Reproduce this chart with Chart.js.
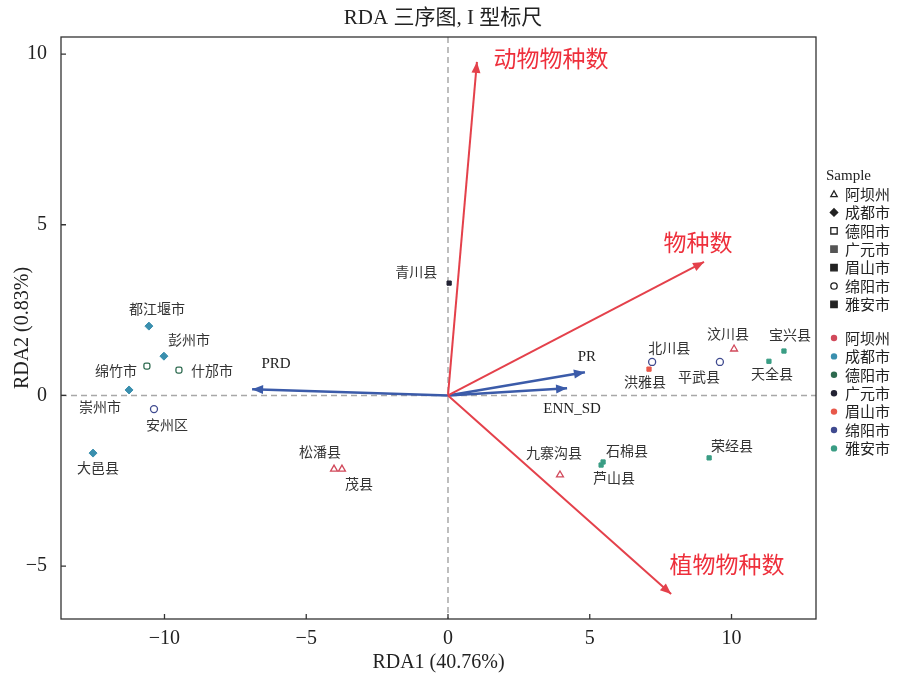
<!DOCTYPE html>
<html>
<head>
<meta charset="utf-8">
<script src="https://cdn.jsdelivr.net/npm/chart.js@4/dist/chart.umd.min.js"></script>
<style>
  html, body { margin: 0; padding: 0; background: #fff; }
  #wrap { width: 897px; height: 675px; }
</style>
</head>
<body>
<div id="wrap"><canvas id="rda"></canvas></div>
<script>
// sample scores
const sampleNames = ['青川县', '都江堰市', '彭州市', '绵竹市', '什邡市', '崇州市', '安州区', '大邑县',
  '松潘县', '茂县', '九寨沟县', '石棉县', '芦山县', '荣经县', '北川县', '洪雅县', '平武县', '汶川县', '天全县', '宝兴县'];
const sampleRegions = ['广元市', '成都市', '成都市', '德阳市', '德阳市', '成都市', '绵阳市', '成都市',
  '阿坝州', '阿坝州', '阿坝州', '雅安市', '雅安市', '雅安市', '绵阳市', '眉山市', '绵阳市', '阿坝州', '雅安市', '雅安市'];
const rda1 = [0.04, -10.55, -10.02, -10.62, -9.49, -11.25, -10.37, -12.52,
  -4.02, -3.74, 3.95, 5.47, 5.40, 9.21, 7.20, 7.09, 9.59, 10.09, 11.32, 11.85];
const rda2 = [3.29, 2.03, 1.15, 0.86, 0.74, 0.16, -0.40, -1.69,
  -2.16, -2.16, -2.33, -1.95, -2.04, -1.83, 0.98, 0.77, 0.98, 1.36, 1.00, 1.30];

const regions = ['阿坝州', '成都市', '德阳市', '广元市', '眉山市', '绵阳市', '雅安市'];

// environment arrows
const envNames = ['动物物种数', '物种数', '植物物种数', 'PRD', 'PR', 'ENN_SD'];
const envRda1 = [1.02, 9.03, 7.87, -6.91, 4.83, 4.20];
const envRda2 = [9.77, 3.91, -5.82, 0.18, 0.68, 0.21];

const xTicks = [-10, -5, 0, 5, 10];
const yTicks = [-5, 0, 5, 10];

// styling
const regionColors = ['#d1495b', '#3a8fae', '#2d6a4f', '#222233', '#e8584a', '#3f4a8f', '#3a9d84'];
const regionShapes = ['triangle', 'rectRot', 'rectRounded', 'rect', 'rect', 'circle', 'rect'];
const regionFilled = [false, true, false, true, true, false, true];
const regionSizes = [4, 4, 3.5, 3, 3, 3.5, 3];
const envColors = ['#e4414b', '#e4414b', '#e4414b', '#3b5ba9', '#3b5ba9', '#3b5ba9'];
const envWidths = [2, 2, 2, 2.5, 2.5, 2.5];

// label offsets (text centre relative to point / arrow tip)
const labelDx = [-33, 8, 25, -31, 33, -29, 13, 5, -14, 17, -6, 24, 13, 23, 17, -4, -21, -6, 3, 6];
const labelDy = [-11, -17, -16, 5, 1, 17, 16, 15, -17, 15, -22, -11, 13, -12, -14, 13, 15, -15, 12, -16];
const envDx = [74, -6, 56, 24, 2, 5];
const envDy = [-4, -20, -30, -25, -15, 21];

const SERIF = "'Liberation Serif', 'Noto Sans CJK SC', serif";
const CJK = "'Liberation Serif', 'Noto Sans CJK SC', sans-serif";

const datasets = regions.map((r, k) => {
  const idx = sampleNames.map((_, i) => i).filter(i => sampleRegions[i] === r);
  return {
    label: r,
    type: 'scatter',
    data: idx.map(i => ({ x: rda1[i], y: rda2[i], name: sampleNames[i], i: i })),
    pointStyle: regionShapes[k],
    pointRadius: regionSizes[k],
    backgroundColor: regionFilled[k] ? regionColors[k] : '#ffffff',
    borderColor: regionColors[k],
    borderWidth: regionFilled[k] ? 1 : 1.3,
    order: 1
  };
});

envNames.forEach((n, k) => {
  datasets.push({
    label: n,
    type: 'line',
    data: [{ x: 0, y: 0 }, { x: envRda1[k], y: envRda2[k] }],
    borderColor: envColors[k],
    borderWidth: envWidths[k],
    pointRadius: 0,
    fill: false,
    isArrow: true,
    envIndex: k,
    order: 2
  });
});

const decor = {
  id: 'decor',
  beforeDatasetsDraw(chart) {
    const { ctx, chartArea: a, scales: { x, y } } = chart;
    ctx.save();
    ctx.strokeStyle = '#a8a8a8';
    ctx.lineWidth = 1.5;
    ctx.setLineDash([6, 4]);
    const x0 = x.getPixelForValue(0), y0 = y.getPixelForValue(0);
    ctx.beginPath();
    ctx.moveTo(x0, a.top); ctx.lineTo(x0, a.bottom);
    ctx.moveTo(a.left, y0); ctx.lineTo(a.right, y0);
    ctx.stroke();
    ctx.restore();
  },
  afterDatasetsDraw(chart) {
    const ctx = chart.ctx;
    ctx.save();
    chart.data.datasets.forEach((ds, di) => {
      const meta = chart.getDatasetMeta(di);
      if (ds.isArrow) {
        const p0 = meta.data[0], p1 = meta.data[1];
        const ang = Math.atan2(p1.y - p0.y, p1.x - p0.x);
        const len = 11, half = 4.5;
        ctx.fillStyle = ds.borderColor;
        ctx.beginPath();
        ctx.moveTo(p1.x, p1.y);
        ctx.lineTo(p1.x - len * Math.cos(ang) + half * Math.sin(ang), p1.y - len * Math.sin(ang) - half * Math.cos(ang));
        ctx.lineTo(p1.x - len * Math.cos(ang) - half * Math.sin(ang), p1.y - len * Math.sin(ang) + half * Math.cos(ang));
        ctx.closePath();
        ctx.fill();
        const k = ds.envIndex;
        const red = k < 3;
        ctx.fillStyle = red ? '#ee2f3b' : '#222';
        ctx.font = red ? "23px 'Noto Sans CJK SC', sans-serif" : '15px ' + SERIF;
        ctx.textAlign = 'center';
        ctx.textBaseline = 'middle';
        ctx.fillText(ds.label, p1.x + envDx[k], p1.y + envDy[k]);
      } else {
        ctx.fillStyle = '#333';
        ctx.font = "14px 'Noto Sans CJK SC', sans-serif";
        ctx.textAlign = 'center';
        ctx.textBaseline = 'middle';
        meta.data.forEach((pt, j) => {
          const i = ds.data[j].i;
          ctx.fillText(ds.data[j].name, pt.x + labelDx[i], pt.y + labelDy[i]);
        });
      }
    });
    ctx.restore();
  },
  afterDraw(chart) {
    const { ctx, chartArea: a, scales: { x, y } } = chart;
    ctx.save();
    // frame + inward ticks
    ctx.strokeStyle = '#333';
    ctx.lineWidth = 1.3;
    ctx.strokeRect(a.left, a.top, a.right - a.left, a.bottom - a.top);
    ctx.beginPath();
    x.ticks.forEach(t => {
      const px = x.getPixelForValue(t.value);
      ctx.moveTo(px, a.bottom); ctx.lineTo(px, a.bottom - 5);
    });
    y.ticks.forEach(t => {
      const py = y.getPixelForValue(t.value);
      ctx.moveTo(a.left, py); ctx.lineTo(a.left + 5, py);
    });
    ctx.stroke();

    // title
    ctx.fillStyle = '#222';
    ctx.font = '21px ' + CJK;
    ctx.textAlign = 'center';
    ctx.textBaseline = 'middle';
    ctx.fillText('RDA 三序图, I 型标尺', 443, 18);

    // legend
    const lx = 834, tx = 845;
    ctx.textAlign = 'left';
    ctx.font = '15px ' + SERIF;
    ctx.fillText('Sample', 826, 176);
    ctx.font = "15px 'Noto Sans CJK SC', sans-serif";
    regions.forEach((r, k) => {
      const yy = 194 + k * 18.4;
      drawMark(ctx, regionShapes[k], regionFilled[k], lx, yy, k === 3 ? '#555' : '#222');
      ctx.fillStyle = '#222';
      ctx.fillText(r, tx, yy);
    });
    regions.forEach((r, k) => {
      const yy = 338 + k * 18.4;
      ctx.fillStyle = regionColors[k];
      ctx.beginPath();
      ctx.arc(lx, yy, 3.2, 0, Math.PI * 2);
      ctx.fill();
      ctx.fillStyle = '#222';
      ctx.fillText(r, tx, yy);
    });
    ctx.restore();
  }
};

function drawMark(ctx, shape, filled, cx, cy, color) {
  ctx.save();
  ctx.strokeStyle = color;
  ctx.fillStyle = filled ? color : '#fff';
  ctx.lineWidth = 1.3;
  ctx.beginPath();
  const s = 3.2;
  if (shape === 'triangle') {
    ctx.moveTo(cx, cy - s); ctx.lineTo(cx + s, cy + s * 0.8); ctx.lineTo(cx - s, cy + s * 0.8); ctx.closePath();
  } else if (shape === 'rectRot') {
    ctx.moveTo(cx, cy - s - 0.5); ctx.lineTo(cx + s + 0.5, cy); ctx.lineTo(cx, cy + s + 0.5); ctx.lineTo(cx - s - 0.5, cy); ctx.closePath();
  } else if (shape === 'circle') {
    ctx.arc(cx, cy, s, 0, Math.PI * 2);
  } else {
    ctx.rect(cx - s, cy - s, s * 2, s * 2);
  }
  ctx.fill();
  ctx.stroke();
  ctx.restore();
}

const minus = v => String(v).replace('-', '\u2212');

new Chart(document.getElementById('rda'), {
  type: 'scatter',
  data: { datasets: datasets },
  options: {
    responsive: true,
    maintainAspectRatio: false,
    animation: false,
    layout: { padding: { left: 0, right: 81, top: 37, bottom: 0 } },
    plugins: {
      legend: { display: false },
      tooltip: { enabled: false },
      title: { display: false }
    },
    scales: {
      x: {
        type: 'linear',
        min: -13.65,
        max: 12.98,
        grid: { display: false },
        border: { display: false },
        afterBuildTicks: s => { s.ticks = xTicks.map(v => ({ value: v })); },
        afterFit: s => { s.height = 56; },
        ticks: {
          padding: 0,
          color: '#222',
          font: { family: SERIF, size: 20 },
          callback: v => minus(v)
        },
        title: {
          display: true,
          text: 'RDA1 (40.76%)',
          color: '#222',
          font: { family: SERIF, size: 20 },
          padding: { top: 0, bottom: 0 }
        }
      },
      y: {
        type: 'linear',
        min: -6.55,
        max: 10.5,
        grid: { display: false },
        border: { display: false },
        afterBuildTicks: s => { s.ticks = yTicks.map(v => ({ value: v })); },
        afterFit: s => { s.width = 61; },
        ticks: {
          padding: 6,
          color: '#222',
          font: { family: SERIF, size: 20 },
          callback: v => minus(v)
        },
        title: {
          display: true,
          text: 'RDA2 (0.83%)',
          color: '#222',
          font: { family: SERIF, size: 20 },
          padding: { top: 11, bottom: 0 }
        }
      }
    }
  },
  plugins: [decor]
});
</script>
</body>
</html>
